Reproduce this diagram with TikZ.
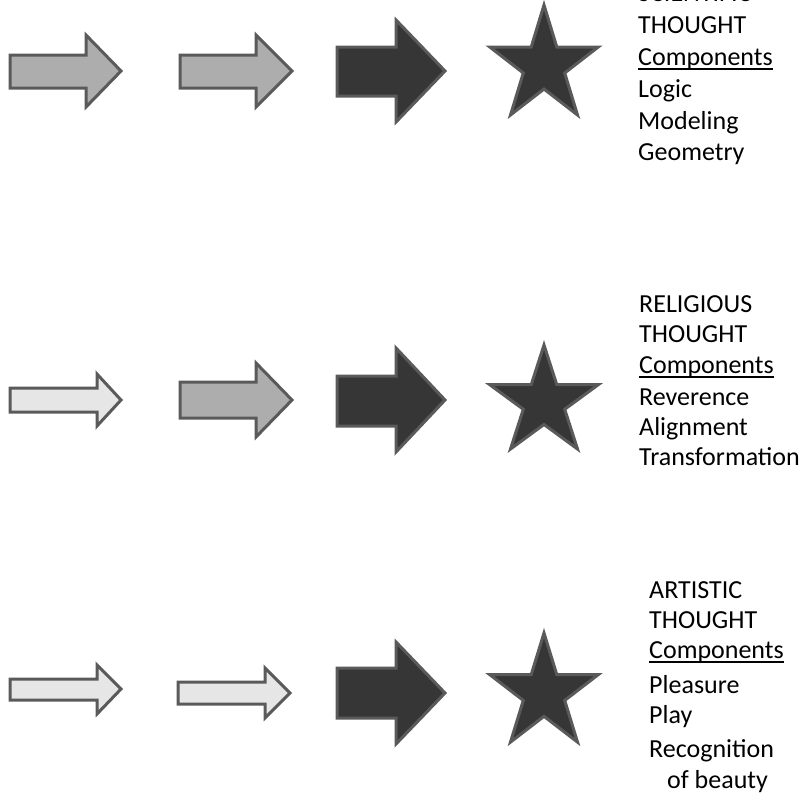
\documentclass[tikz,border=0pt]{standalone}
\usepackage{fontspec}
\setmainfont{Carlito}
\definecolor{lightf}{HTML}{E6E6E6}
\definecolor{medf}{HTML}{ADADAD}
\definecolor{darkf}{HTML}{363636}
\definecolor{edgec}{HTML}{5A5A5A}
\newcommand\starpath{(90:1) -- (126:0.382) -- (162:1) -- (198:0.382) -- (234:1) -- (270:0.382) -- (306:1) -- (342:0.382) -- (18:1) -- (54:0.382) -- cycle}
\begin{document}
\begin{tikzpicture}[x=1pt,y=-1pt,
  shapebase/.style={draw=edgec,line width=3pt,line join=miter},
  lightarrow/.style={shapebase,fill=lightf},
  medarrow/.style={shapebase,fill=medf},
  darkarrow/.style={shapebase,fill=darkf},
  starsty/.style={shapebase,fill=darkf},
  lbl/.style={anchor=base west,inner sep=0pt,font=\fontsize{26}{31}\selectfont}]
\useasboundingbox (0,0) rectangle (809,804);
% ---------- row 1 ----------
\draw[medarrow] (10,55)--(86,55)--(86,35)--(121,71)--(86,107)--(86,88)--(10,88)--cycle;
\draw[medarrow] (180,55)--(256,55)--(256,35)--(292,71)--(256,107)--(256,88)--(180,88)--cycle;
\draw[darkarrow] (337,47)--(396,47)--(396,20)--(445,71)--(396,122)--(396,96)--(337,96)--cycle;
\begin{scope}[shift={(544,65.8)},x=57pt,y=60.8pt]
\draw[starsty] \starpath;
\end{scope}
\node[lbl] (s1) at (638,1.5) {SCIENTIFIC};
\node[lbl] (s2) at (638,33) {THOUGHT};
\node[lbl] (s3) at (638,65) {Components};
\draw[line width=2.2pt] ([yshift=-3.7pt]s3.base west) -- ([yshift=-3.7pt]s3.base east);
\node[lbl] (s4) at (638,97) {Logic};
\node[lbl] (s5) at (638,129) {Modeling};
\node[lbl] (s6) at (638,160) {Geometry};
% ---------- row 2 ----------
\draw[lightarrow] (10,388)--(97,388)--(97,374)--(121,400)--(97,426)--(97,412)--(10,412)--cycle;
\draw[medarrow] (180,382)--(256,382)--(256,363)--(292,400)--(256,437)--(256,418)--(180,418)--cycle;
\draw[darkarrow] (337,376)--(396,376)--(396,348)--(445,400)--(396,452)--(396,426)--(337,426)--cycle;
\begin{scope}[shift={(544,402.5)},x=57pt,y=57.5pt]
\draw[starsty] \starpath;
\end{scope}
\node[lbl] (r1) at (639,312) {RELIGIOUS};
\node[lbl] (r2) at (639,342) {THOUGHT};
\node[lbl] (r3) at (639,373) {Components};
\draw[line width=2.2pt] ([yshift=-3.7pt]r3.base west) -- ([yshift=-3.7pt]r3.base east);
\node[lbl] (r4) at (639,405) {Reverence};
\node[lbl] (r5) at (639,435) {Alignment};
\node[lbl] (r6) at (639,465) {Transformation};
% ---------- row 3 ----------
\draw[lightarrow] (10,679)--(97,679)--(97,665)--(121,689)--(97,714)--(97,700)--(10,700)--cycle;
\draw[lightarrow] (178,682)--(265,682)--(265,668)--(290,693)--(265,718)--(265,704)--(178,704)--cycle;
\draw[darkarrow] (337,668)--(396,668)--(396,642)--(445,693)--(396,744)--(396,718)--(337,718)--cycle;
\begin{scope}[shift={(544,693.3)},x=57pt,y=60.3pt]
\draw[starsty] \starpath;
\end{scope}
\node[lbl] (a1) at (649,598) {ARTISTIC};
\node[lbl] (a2) at (649,628) {THOUGHT};
\node[lbl] (a3) at (649,658) {Components};
\draw[line width=2.2pt] ([yshift=-3.7pt]a3.base west) -- ([yshift=-3.7pt]a3.base east);
\node[lbl] (a4) at (649,693) {Pleasure};
\node[lbl] (a5) at (649,723) {Play};
\node[lbl] (a6) at (649,757) {Recognition};
\node[lbl] (a7) at (667,788) {of beauty};
\end{tikzpicture}
\end{document}
